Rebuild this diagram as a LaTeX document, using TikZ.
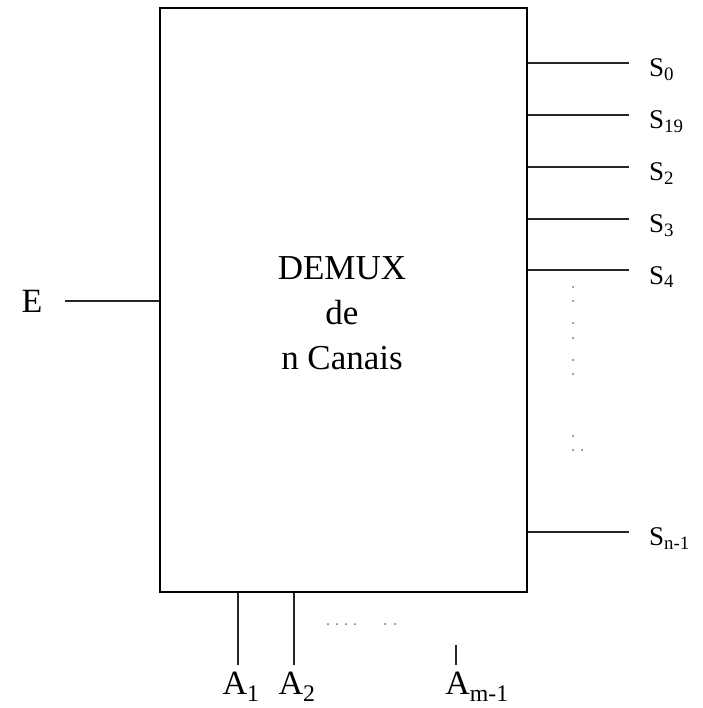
\documentclass[tikz,border=0pt]{standalone}
\usepackage{fontspec}
\setmainfont{Liberation Serif}
\usetikzlibrary{positioning, calc}

\begin{document}
\begin{tikzpicture}[
    x=1pt, y=-1pt,
    demuxbox/.style={rectangle, draw=black, line width=1.7pt, minimum width=367pt, minimum height=584pt, inner sep=0pt},
    title/.style={align=center, font=\fontsize{35}{45}\selectfont},
    biglbl/.style={inner sep=0pt, font=\fontsize{34}{40}\selectfont},
    outlbl/.style={inner sep=0pt, anchor=west, font=\fontsize{27}{32}\selectfont},
    wire/.style={line width=1.5pt, draw=black!85},
    dot/.style={fill=black!60}
]
    \useasboundingbox (0,0) rectangle (702,708);

    % Demux block
    \node[demuxbox] (demux) at (343.5,300) {};
    \node[title] (name) at (342,313) {DEMUX\\de\\n Canais};

    % Input
    \coordinate (ein) at (65,301);
    \node[biglbl] (e) at (32,301) {E};
    \draw[wire] (ein) -- (demux.west |- ein);

    % Outputs
    \coordinate (o0) at (629,63);
    \coordinate (o1) at (629,115);
    \coordinate (o2) at (629,167);
    \coordinate (o3) at (629,219);
    \coordinate (o4) at (629,270);
    \coordinate (on) at (629,532);
    \node[outlbl] (s0) at (649,70) {S\textsubscript{0}};
    \node[outlbl] (s1) at (649,122) {S\textsubscript{19}};
    \node[outlbl] (s2) at (649,174) {S\textsubscript{2}};
    \node[outlbl] (s3) at (649,226) {S\textsubscript{3}};
    \node[outlbl] (s4) at (649,277) {S\textsubscript{4}};
    \node[outlbl] (sn) at (649,539) {S\textsubscript{n-1}};
    \foreach \o in {o0,o1,o2,o3,o4,on}
        \draw[wire] (demux.east |- \o) -- (\o);
    \foreach \y in {287,301,323,338,360,374,436,450}
        \fill[dot] (573,\y) circle (1pt);
    \fill[dot] (582,450) circle (1pt);

    % Selection inputs
    \coordinate (a1) at (238,665);
    \coordinate (a2) at (294,665);
    \coordinate (am) at (456,665);
    \coordinate (amtop) at (456,645);
    \node[biglbl] (la1) at (241,687) {A\textsubscript{1}};
    \node[biglbl] (la2) at (297,687) {A\textsubscript{2}};
    \node[biglbl] (lam) at (477,687) {A\textsubscript{m-1}};
    \draw[wire] (demux.south -| a1) -- (a1);
    \draw[wire] (demux.south -| a2) -- (a2);
    \draw[wire] (amtop) -- (am);
    \foreach \x in {328,337,346,355,385,395}
        \fill[dot] (\x,624) circle (1pt);

\end{tikzpicture}
\end{document}
